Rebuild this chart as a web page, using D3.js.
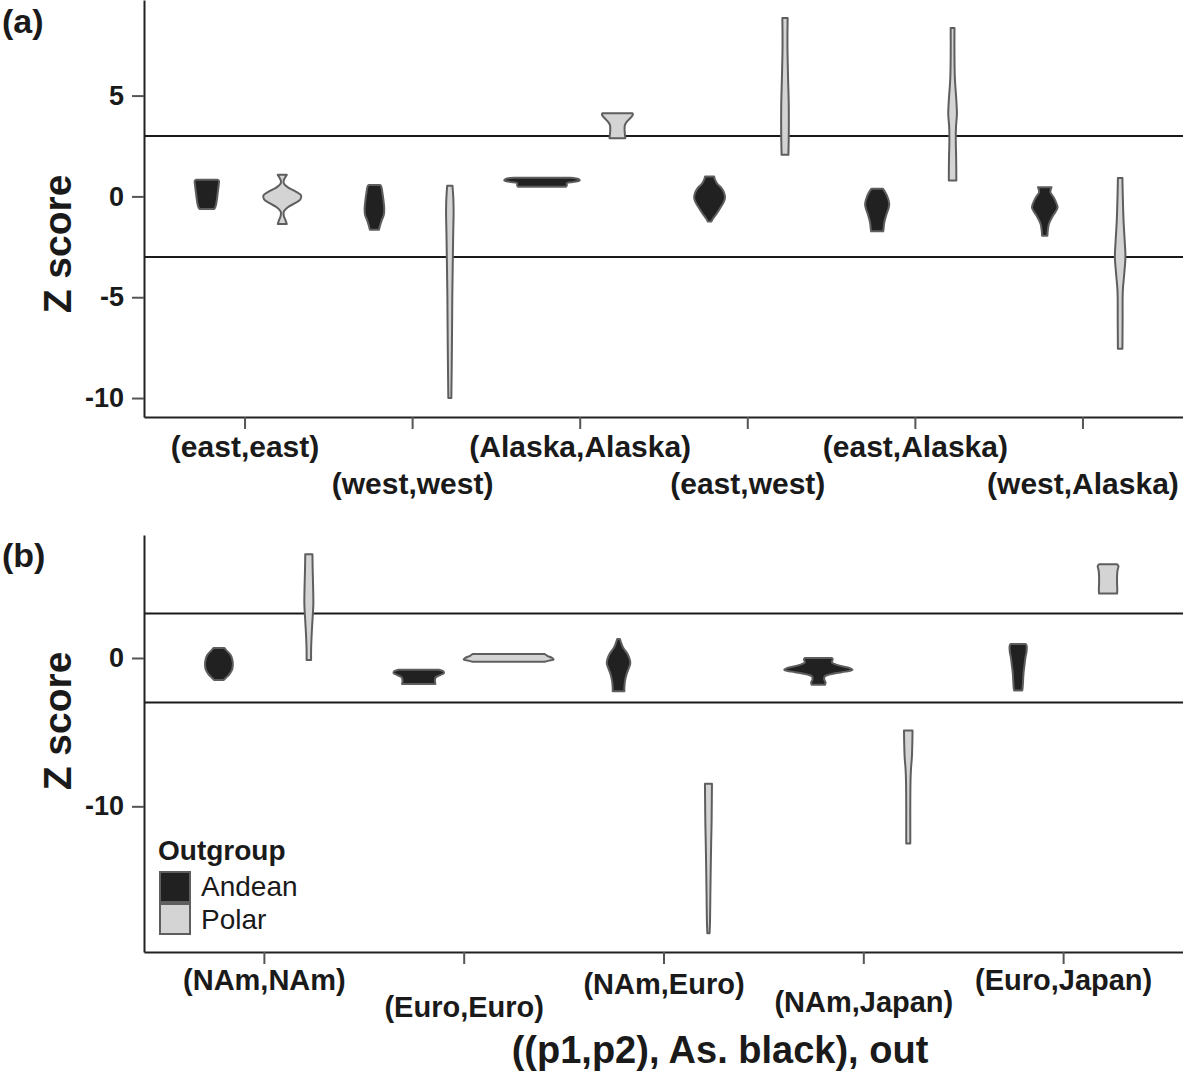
<!DOCTYPE html>
<html>
<head>
<meta charset="utf-8">
<script src="https://cdn.jsdelivr.net/npm/d3@7"></script>
<style>
  body { margin: 0; background: #fff; }
  text { font-family: "Liberation Sans", Arial, sans-serif; }
</style>
</head>
<body>
<div id="chart"></div>
<script>
// categories
const catsA = ['(east,east)', '(west,west)', '(Alaska,Alaska)', '(east,west)', '(east,Alaska)', '(west,Alaska)'];
const catsB = ['(NAm,NAm)', '(Euro,Euro)', '(NAm,Euro)', '(NAm,Japan)', '(Euro,Japan)'];
const groups = ['Andean', 'Polar'];
const refLines = [3, -3];
const ticksA = [-10, -5, 0, 5];
const ticksB = [-10, 0];

// violin outlines: [z score, relative width] from top to bottom
const andeanA = [
  [[0.83, 0.28], [0.78, 0.32], [0.5, 0.31], [0.2, 0.29], [-0.1, 0.27], [-0.35, 0.25], [-0.55, 0.22], [-0.63, 0.19]],
  [[0.57, 0.15], [0.5, 0.18], [0.2, 0.21], [-0.2, 0.24], [-0.6, 0.26], [-0.9, 0.25], [-1.2, 0.19], [-1.5, 0.14], [-1.66, 0.12]],
  [[0.93, 0.75], [0.86, 0.97], [0.79, 1.0], [0.72, 0.85], [0.66, 0.66], [0.55, 0.66], [0.48, 0.64]],
  [[0.99, 0.12], [0.85, 0.14], [0.63, 0.2], [0.4, 0.32], [0.2, 0.38], [-0.05, 0.41], [-0.3, 0.37], [-0.55, 0.29], [-0.87, 0.18], [-1.1, 0.09], [-1.24, 0.05]],
  [[0.38, 0.15], [0.25, 0.2], [0.04, 0.26], [-0.37, 0.32], [-0.6, 0.3], [-0.87, 0.25], [-1.28, 0.19], [-1.6, 0.17], [-1.73, 0.16]],
  [[0.46, 0.18], [0.35, 0.16], [0.2, 0.15], [0.0, 0.22], [-0.21, 0.28], [-0.54, 0.34], [-0.75, 0.29], [-0.95, 0.22], [-1.37, 0.11], [-1.7, 0.08], [-1.95, 0.07]]
];
const polarA = [
  [[1.07, 0.12], [0.95, 0.08], [0.8, 0.04], [0.65, 0.04], [0.45, 0.15], [0.25, 0.35], [0.05, 0.5], [-0.15, 0.48], [-0.35, 0.32], [-0.55, 0.14], [-0.75, 0.04], [-0.95, 0.04], [-1.2, 0.09], [-1.37, 0.12]],
  [[0.53, 0.07], [0, 0.09], [-0.7, 0.1], [-1.8, 0.09], [-3, 0.08], [-5, 0.065], [-7.5, 0.055], [-10.0, 0.04]],
  [[4.12, 0.4], [4.05, 0.41], [3.92, 0.36], [3.75, 0.27], [3.55, 0.2], [3.3, 0.19], [3.05, 0.2], [2.89, 0.21]],
  [[8.85, 0.07], [7.5, 0.065], [6, 0.08], [4.5, 0.1], [3, 0.1], [2.06, 0.09]],
  [[8.35, 0.05], [7, 0.05], [5.9, 0.06], [4.75, 0.1], [4.1, 0.115], [3.43, 0.09], [2.76, 0.085], [1.9, 0.095], [0.79, 0.1]],
  [[0.91, 0.06], [0, 0.07], [-1.2, 0.09], [-2.2, 0.12], [-3, 0.14], [-3.8, 0.11], [-4.7, 0.07], [-6.2, 0.065], [-7.56, 0.06]]
];
const andeanB = [
  [[0.67, 0.12], [0.5, 0.17], [0.2, 0.26], [-0.15, 0.3], [-0.45, 0.31], [-0.8, 0.29], [-1.1, 0.23], [-1.35, 0.15], [-1.48, 0.11]],
  [[-0.79, 0.45], [-0.9, 0.55], [-1.02, 0.56], [-1.15, 0.48], [-1.3, 0.38], [-1.5, 0.36], [-1.75, 0.37]],
  [[1.28, 0.03], [1.0, 0.06], [0.71, 0.1], [0.27, 0.2], [-0.1, 0.25], [-0.4, 0.26], [-0.75, 0.22], [-1.08, 0.18], [-1.53, 0.145], [-2.0, 0.13], [-2.24, 0.13]],
  [[0, 0.3], [-0.1, 0.32], [-0.3, 0.3], [-0.5, 0.45], [-0.68, 0.7], [-0.8, 0.76], [-0.92, 0.6], [-1.05, 0.35], [-1.25, 0.14], [-1.45, 0.13], [-1.65, 0.16], [-1.8, 0.15]],
  [[0.94, 0.17], [0.8, 0.19], [0.4, 0.185], [0, 0.16], [-0.5, 0.14], [-1.0, 0.12], [-1.5, 0.11], [-2.0, 0.1], [-2.2, 0.09]]
];
const polarB = [
  [[7.0, 0.08], [6, 0.085], [4.8, 0.095], [3.65, 0.1], [2.5, 0.08], [1.4, 0.06], [0.5, 0.05], [-0.13, 0.05]],
  [[0.27, 0.8], [0.15, 0.86], [0.0, 0.97], [-0.1, 1.0], [-0.18, 0.9], [-0.25, 0.8]],
  [[-8.47, 0.078], [-9.5, 0.075], [-11, 0.07], [-12.5, 0.06], [-14.3, 0.05], [-16, 0.042], [-17.7, 0.035], [-18.56, 0.025]],
  [[-4.89, 0.095], [-5.8, 0.09], [-6.7, 0.08], [-7.5, 0.06], [-8.3, 0.05], [-10, 0.045], [-11.5, 0.045], [-12.5, 0.045]],
  [[6.32, 0.2], [6.2, 0.23], [5.9, 0.21], [5.5, 0.2], [5.0, 0.2], [4.6, 0.205], [4.34, 0.2]]
];

const w = 1183;
const h = 1075;
const left = 144;
const right = 1183;
const fills = ['#212121', '#d4d4d4'];
const outline = '#5e5e5e';

const svg = d3.select('#chart')
  .append('svg')
  .attr('width', w)
  .attr('height', h);

function drawPanel(p) {
  const x = d3.scalePoint()
    .domain(p.cats)
    .range([left, right])
    .padding(0.6);
  const step = x.step();

  const y = d3.scaleLinear()
    .domain(p.zDomain)
    .range([p.bottom, p.top]);

  // ggplot style: widest violin fills the dodge slot
  const wScale = d3.scaleLinear()
    .domain([0, 1])
    .range([0, 0.45 * step]);

  const g = svg.append('g');

  g.selectAll('line.ref')
    .data(refLines)
    .enter()
    .append('line')
    .attr('class', 'ref')
    .attr('x1', left)
    .attr('x2', right)
    .attr('y1', d => y(d))
    .attr('y2', d => y(d))
    .attr('stroke', '#1a1a1a')
    .attr('stroke-width', 2);

  groups.forEach((grp, gi) => {
    const profs = gi === 0 ? p.andean : p.polar;
    profs.forEach((prof, ci) => {
      const cx = x(p.cats[ci]) + (gi === 0 ? -1 : 1) * 0.225 * step;
      const area = d3.area()
        .curve(d3.curveCatmullRom.alpha(0.5))
        .y(d => y(d[0]))
        .x0(d => cx - wScale(d[1]) / 2)
        .x1(d => cx + wScale(d[1]) / 2);
      g.append('path')
        .datum(prof)
        .attr('d', area)
        .attr('fill', fills[gi])
        .attr('stroke', outline)
        .attr('stroke-width', 2)
        .attr('stroke-linejoin', 'round');
    });
  });

  const yAxis = d3.axisLeft(y)
    .tickValues(p.ticks)
    .tickFormat(d => String(d))
    .tickSize(12)
    .tickPadding(8)
    .tickSizeOuter(0);

  const ya = g.append('g')
    .attr('transform', 'translate(' + left + ',0)')
    .call(yAxis);
  ya.selectAll('text')
    .style('font-size', '27px')
    .style('font-weight', 'bold')
    .attr('fill', '#1a1a1a');

  const xAxis = d3.axisBottom(x)
    .tickSize(12)
    .tickSizeOuter(0);

  const xa = g.append('g')
    .attr('transform', 'translate(0,' + p.bottom + ')')
    .call(xAxis);
  xa.selectAll('text')
    .style('font-size', p.labelSize + 'px')
    .style('font-weight', 'bold')
    .attr('fill', '#1a1a1a')
    .attr('dy', 0)
    .attr('y', (d, i) => p.labelY[i]);

  [ya, xa].forEach(a => {
    a.select('.domain').attr('stroke', '#222').attr('stroke-width', 2);
    a.selectAll('.tick line').attr('stroke', '#555').attr('stroke-width', 2);
  });

  svg.append('text')
    .attr('x', 2)
    .attr('y', p.tagY)
    .text(p.tag)
    .style('font-size', '34px')
    .style('font-weight', 'bold')
    .attr('fill', '#1a1a1a');

  svg.append('text')
    .attr('transform', 'translate(71,' + p.titleY + ') rotate(-90)')
    .attr('text-anchor', 'middle')
    .text('Z score')
    .style('font-size', '39px')
    .style('font-weight', 'bold')
    .attr('fill', '#1a1a1a');
}

drawPanel({
  cats: catsA, andean: andeanA, polar: polarA,
  zDomain: [-10.94, 9.74], top: 0, bottom: 417, ticks: ticksA,
  labelSize: 30, labelY: [40, 76.5, 40, 76.5, 40, 76.5],
  tag: '(a)', tagY: 33, titleY: 244
});

drawPanel({
  cats: catsB, andean: andeanB, polar: polarB,
  zDomain: [-19.82, 8.29], top: 535, bottom: 952, ticks: ticksB,
  labelSize: 29, labelY: [38, 65, 41.5, 60, 38],
  tag: '(b)', tagY: 567, titleY: 721
});

// legend
const legend = svg.append('g').attr('id', 'legend');

legend.append('text')
  .attr('x', 158)
  .attr('y', 860)
  .text('Outgroup')
  .style('font-size', '28px')
  .style('font-weight', 'bold')
  .attr('fill', '#1a1a1a');

legend.selectAll('rect')
  .data(groups)
  .enter()
  .append('rect')
  .attr('x', 160)
  .attr('y', (d, i) => 872 + 32 * i)
  .attr('width', 30)
  .attr('height', 30)
  .attr('fill', (d, i) => fills[i])
  .attr('stroke', outline)
  .attr('stroke-width', 2);

legend.selectAll('text.key')
  .data(groups)
  .enter()
  .append('text')
  .attr('class', 'key')
  .attr('x', 201)
  .attr('y', (d, i) => 896 + 33 * i)
  .text(d => d)
  .style('font-size', '28px')
  .attr('fill', '#1a1a1a');

svg.append('text')
  .attr('x', 720)
  .attr('y', 1063)
  .attr('text-anchor', 'middle')
  .text('((p1,p2), As. black), out')
  .style('font-size', '38px')
  .style('font-weight', 'bold')
  .attr('fill', '#1a1a1a');
</script>
</body>
</html>
